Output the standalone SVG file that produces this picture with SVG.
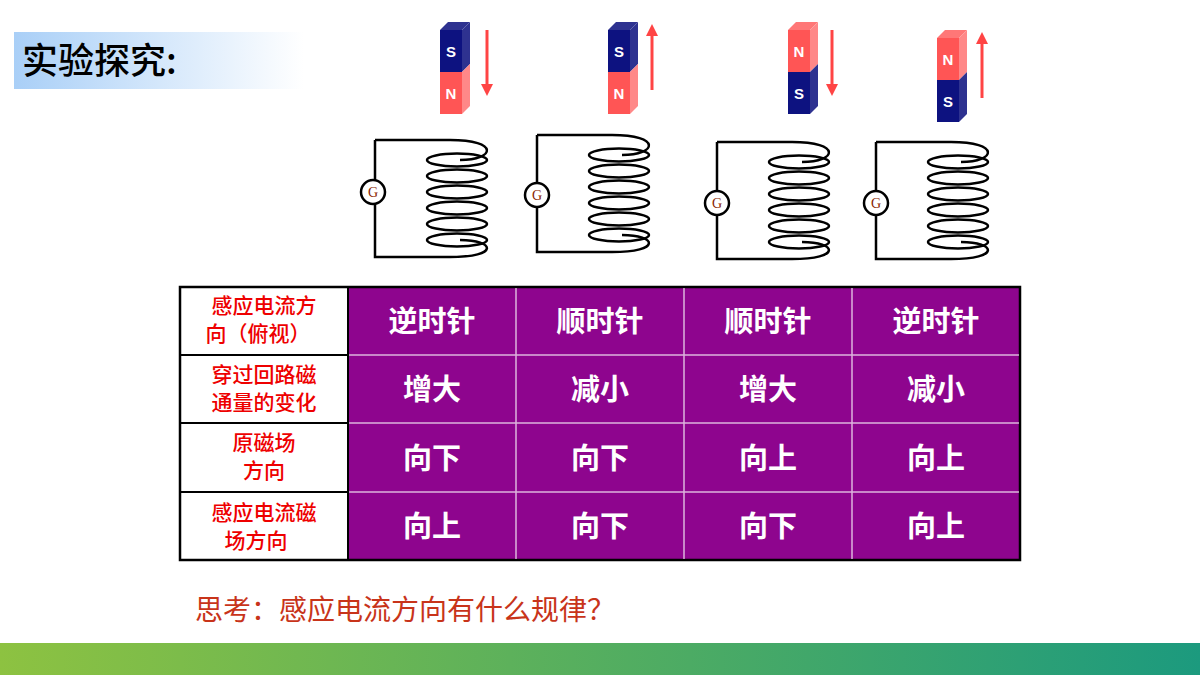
<svg xmlns="http://www.w3.org/2000/svg" width="1200" height="675" viewBox="0 0 1200 675">
<defs>
<linearGradient id="tg" x1="0" x2="1"><stop offset="0" stop-color="#A9CFF7"/><stop offset="1" stop-color="#fff"/></linearGradient>
<linearGradient id="fg" x1="0" x2="1"><stop offset="0" stop-color="#8DC241"/><stop offset="1" stop-color="#1C9A7E"/></linearGradient>
<g id="coil" fill="none" stroke="#000" stroke-width="2.5">
<path d="M0,0 V117 H75"/><path d="M0,0 H75"/>
<path d="M75,0 C125,0 120,20 85,20"/>
<ellipse cx="82" cy="20" rx="30" ry="6.5"/><ellipse cx="82" cy="36" rx="30" ry="6.5"/><ellipse cx="82" cy="52" rx="30" ry="6.5"/><ellipse cx="82" cy="68" rx="30" ry="6.5"/><ellipse cx="82" cy="84" rx="30" ry="6.5"/><ellipse cx="82" cy="100" rx="30" ry="6.5"/>
<path d="M85,100 C120,100 125,117 75,117"/>
</g>
<marker id="ah" markerWidth="4" markerHeight="4" refX="2" refY="2" orient="auto" markerUnits="strokeWidth"><path d="M0,0 L4,2 L0,4Z" fill="#F44"/></marker>
</defs>
<style>
.b{fill:#0D1280}.bs{fill:#2E3290}.r{fill:#F55}.rs{fill:#F88}.m{fill:#fff;font:bold 15px "Liberation Sans",sans-serif;text-anchor:middle}
.gc{fill:#fff;stroke:#000;stroke-width:2.5}
.g{font:14px "Liberation Serif",serif;fill:#8B2500;text-anchor:middle}
.arr{stroke:#F44;stroke-width:3;marker-end:url(#ah)}
.h{font:500 21px "Noto Sans CJK SC",sans-serif;fill:#E00;text-anchor:middle}
.c{font:bold 29px "Noto Sans CJK SC",sans-serif;fill:#fff;text-anchor:middle}
</style>
<rect width="1200" height="675" fill="#fff"/>
<rect x="14" y="32" width="290" height="57" fill="url(#tg)"/>
<text x="22" y="74" font-family="Noto Sans CJK SC,sans-serif" font-size="36" font-weight="500">实验探究:</text>
<g id="magnet1"><path d="M440,30 l8,-8 h22 l-8,8z" fill="#2E3290"/><path class="bs" d="M462,30 l8,-8 v42 l-8,8z"/><path class="rs" d="M462,72 l8,-8 v42 l-8,8z"/><rect class="b" x="440" y="30" width="22" height="42"/><rect class="r" x="440" y="72" width="22" height="42"/><text class="m" x="451" y="57">S</text><text class="m" x="451" y="99">N</text><line class="arr" x1="487" y1="30" x2="487" y2="90"/></g>
<g id="magnet2"><path d="M608,30 l8,-8 h22 l-8,8z" fill="#2E3290"/><path class="bs" d="M630,30 l8,-8 v42 l-8,8z"/><path class="rs" d="M630,72 l8,-8 v42 l-8,8z"/><rect class="b" x="608" y="30" width="22" height="42"/><rect class="r" x="608" y="72" width="22" height="42"/><text class="m" x="619" y="57">S</text><text class="m" x="619" y="99">N</text><line class="arr" x1="652" y1="90" x2="652" y2="30"/></g>
<g id="magnet3"><path d="M788,30 l8,-8 h22 l-8,8z" fill="#F77"/><path class="rs" d="M810,30 l8,-8 v42 l-8,8z"/><path class="bs" d="M810,72 l8,-8 v42 l-8,8z"/><rect class="r" x="788" y="30" width="22" height="42"/><rect class="b" x="788" y="72" width="22" height="42"/><text class="m" x="799" y="57">N</text><text class="m" x="799" y="99">S</text><line class="arr" x1="832" y1="30" x2="832" y2="90"/></g>
<g id="magnet4"><path d="M937,38 l8,-8 h22 l-8,8z" fill="#F77"/><path class="rs" d="M959,38 l8,-8 v42 l-8,8z"/><path class="bs" d="M959,80 l8,-8 v42 l-8,8z"/><rect class="r" x="937" y="38" width="22" height="42"/><rect class="b" x="937" y="80" width="22" height="42"/><text class="m" x="948" y="65">N</text><text class="m" x="948" y="107">S</text><line class="arr" x1="982" y1="98" x2="982" y2="38"/></g>
<g id="circuit1"><use href="#coil" x="375" y="140"/><circle class="gc" cx="373" cy="192" r="12"/><text class="g" x="373" y="197">G</text></g>
<g id="circuit2"><use href="#coil" x="537" y="135"/><circle class="gc" cx="537" cy="195" r="12"/><text class="g" x="537" y="200">G</text></g>
<g id="circuit3"><use href="#coil" x="717" y="142"/><circle class="gc" cx="717" cy="203" r="12"/><text class="g" x="717" y="208">G</text></g>
<g id="circuit4"><use href="#coil" x="876" y="142"/><circle class="gc" cx="876" cy="203" r="12"/><text class="g" x="876" y="208">G</text></g>
<g id="table">
<rect x="348" y="287" width="672" height="273" fill="#8E058E"/>
<rect x="180" y="287" width="840" height="273" fill="none" stroke="#000" stroke-width="2.5"/>
<g stroke="#000" stroke-width="2"><line x1="180" y1="355" x2="348" y2="355"/><line x1="180" y1="423" x2="348" y2="423"/><line x1="180" y1="492" x2="348" y2="492"/><line x1="348" y1="287" x2="348" y2="560"/></g>
<g stroke="#fff" stroke-width="1.5" opacity="0.7"><line x1="349" y1="355" x2="1019" y2="355"/><line x1="349" y1="423" x2="1019" y2="423"/><line x1="349" y1="492" x2="1019" y2="492"/><line x1="516" y1="288" x2="516" y2="559"/><line x1="684" y1="288" x2="684" y2="559"/><line x1="852" y1="288" x2="852" y2="559"/></g>
<text class="h" x="264" y="313">感应电流方</text><text class="h" x="258" y="341">向（俯视）</text>
<text class="h" x="264" y="382">穿过回路磁</text><text class="h" x="264" y="410">通量的变化</text>
<text class="h" x="264" y="450">原磁场</text><text class="h" x="264" y="478">方向</text>
<text class="h" x="264" y="520">感应电流磁</text><text class="h" x="256" y="548">场方向</text>
<g class="c"><text x="432" y="332">逆时针</text><text x="600" y="332">顺时针</text><text x="768" y="332">顺时针</text><text x="936" y="332">逆时针</text>
<text x="432" y="400">增大</text><text x="600" y="400">减小</text><text x="768" y="400">增大</text><text x="936" y="400">减小</text>
<text x="432" y="469">向下</text><text x="600" y="469">向下</text><text x="768" y="469">向上</text><text x="936" y="469">向上</text>
<text x="432" y="537">向上</text><text x="600" y="537">向下</text><text x="768" y="537">向下</text><text x="936" y="537">向上</text></g>
</g>
<text x="195" y="620" font-family="Noto Sans CJK SC,sans-serif" font-size="28" fill="#C8341A">思考：感应电流方向有什么规律？</text>
<rect x="0" y="643" width="1200" height="32" fill="url(#fg)"/>
</svg>
